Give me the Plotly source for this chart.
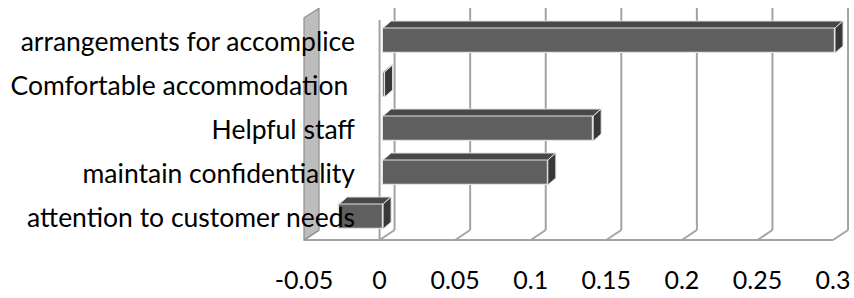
import plotly.graph_objects as go

# ---- data ----
categories = ["arrangements for accomplice", "Comfortable accommodation\u00a0",
              "Helpful staff", "maintain confidentiality", "attention to customer needs"]
values = [0.299, 0.001, 0.139, 0.109, -0.029]
x_ticks = [-0.05, 0, 0.05, 0.1, 0.15, 0.2, 0.25, 0.3]
x_tick_labels = ["-0.05", "0", "0.05", "0.1", "0.15", "0.2", "0.25", "0.3"]

# ---- layout geometry / style constants ----
W, H = 854, 298
ML, MR, MT, MB = 301, 3, 8, 55
PXX = 1511.5          # px per x unit
PXY = 44.0            # px per category
X_LO = x_ticks[0] - 3 / PXX
X_HI = X_LO + (W - ML - MR) / PXX
n = len(categories)
Y_LO = -0.5 - 3 / PXY
Y_HI = Y_LO + (H - MT - MB) / PXY

WX, WY = 15 / PXX, 10 / PXY      # depth of the 3D box
BX, BY = 8 / PXX, 7 / PXY        # depth of a bar
SX, SY = 3.5 / PXX, 1.5 / PXY    # bar setback from front plane
BW = 25 / PXY                    # bar thickness

FONT = "Lato"
GRID = "#a3a3a3"
FRONT = "#5f5f5f"
TOP = "#484848"
SIDE = "#383838"
EDGE = "#e2e2e2"

ys = [n - 1 - i for i in range(n)]
x_min, x_max = x_ticks[0], x_ticks[-1]
y_floor, y_top = -0.5, n - 0.5

shapes = []
# back wall grid lines
for t in x_ticks[1:]:
    shapes.append(dict(type="line", xref="x", yref="y", layer="below",
                       x0=t + WX, x1=t + WX, y0=y_floor + WY, y1=Y_HI,
                       line=dict(color=GRID, width=2)))
# floor diagonals
for t in x_ticks:
    shapes.append(dict(type="line", xref="x", yref="y", layer="below",
                       x0=t, x1=t + WX, y0=y_floor, y1=y_floor + WY,
                       line=dict(color=GRID, width=2)))
# front floor edge
shapes.append(dict(type="line", xref="x", yref="y", layer="below",
                   x0=x_min, x1=x_max, y0=y_floor, y1=y_floor,
                   line=dict(color=GRID, width=2)))
# front zero plane line
shapes.append(dict(type="line", xref="x", yref="y", layer="below",
                   x0=0, x1=0, y0=y_floor, y1=y_top,
                   line=dict(color=GRID, width=2)))
# left wall
shapes.append(dict(type="path", xref="x", yref="y", layer="below",
                   path=f"M {x_min},{y_floor} L {x_min},{y_top + 0.05} "
                        f"L {x_min + WX},{y_top + WY + 0.04} L {x_min + WX},{y_floor + WY} Z",
                   fillcolor="#bdbdbd", line=dict(color="#8e8e8e", width=1.2)))

fig = go.Figure()

# bar front faces
fig.add_trace(go.Bar(orientation="h", y=[y + SY for y in ys], x=values, base=SX,
                     width=BW, marker=dict(color=FRONT, line=dict(color=EDGE, width=1.2)),
                     hoverinfo="skip", showlegend=False))

# top and side faces
tx, ty, sx, sy = [], [], [], []
for y, v in zip(ys, values):
    x0 = SX + min(0, v)
    x1 = SX + max(0, v)
    yt = y + SY + BW / 2
    yb = y + SY - BW / 2
    tx += [x0, x1, x1 + BX, x0 + BX, x0, None]
    ty += [yt, yt, yt + BY, yt + BY, yt, None]
    sx += [x1, x1, x1 + BX, x1 + BX, x1, None]
    sy += [yb, yt, yt + BY, yb + BY, yb, None]

fig.add_trace(go.Scatter(x=tx, y=ty, mode="lines", fill="toself", fillcolor=TOP,
                         line=dict(color=EDGE, width=1), hoverinfo="skip", showlegend=False))
fig.add_trace(go.Scatter(x=sx, y=sy, mode="lines", fill="toself", fillcolor=SIDE,
                         line=dict(color=EDGE, width=1), hoverinfo="skip", showlegend=False))

fig.update_layout(
    width=W, height=H,
    margin=dict(l=ML, r=MR, t=MT, b=MB, pad=0),
    paper_bgcolor="white", plot_bgcolor="white",
    shapes=shapes,
    bargap=0,
    font=dict(family=FONT, size=26.5, color="#000000"),
    xaxis=dict(range=[X_LO, X_HI], tickvals=x_ticks, ticktext=x_tick_labels,
               showgrid=False, zeroline=False, showline=False, ticks="", automargin=False,
               ticklabelstandoff=20, tickfont=dict(family=FONT, size=25, color="#000")),
    yaxis=dict(range=[Y_LO, Y_HI], tickvals=ys, ticktext=categories,
               showgrid=False, zeroline=False, showline=False, ticks="", automargin=False,
               ticklabelstandoff=-55, tickfont=dict(family=FONT, size=26.5, color="#000")),
)

fig.write_html("out.html", config={"displayModeBar": False},
               post_script="document.body.style.margin='0';")
